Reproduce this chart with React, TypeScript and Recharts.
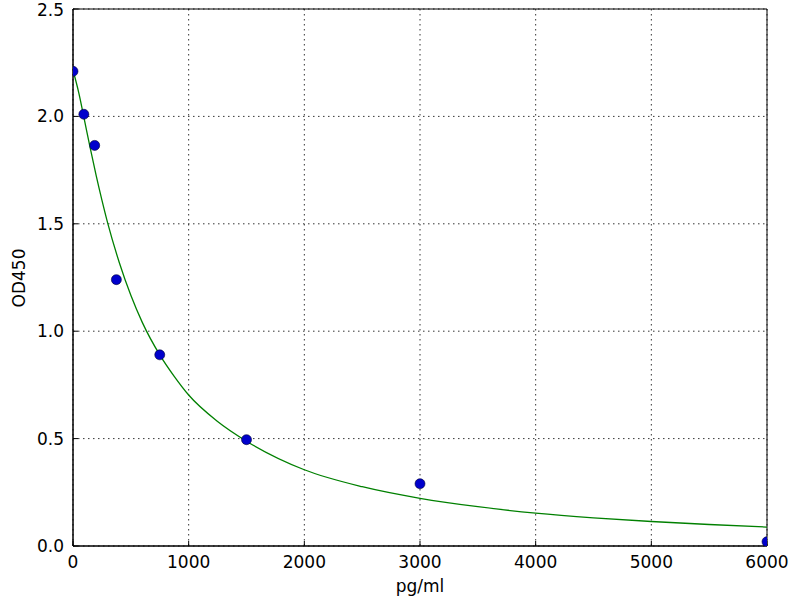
import {
  ComposedChart,
  Line,
  Scatter,
  XAxis,
  YAxis,
  CartesianGrid,
  ReferenceArea,
} from "recharts";

// measured standards
const concentrations = [0, 93.75, 187.5, 375, 750, 1500, 3000, 6000];
const odMeasured = [2.21, 2.01, 1.865, 1.24, 0.89, 0.495, 0.29, 0.02];

// fitted curve
const fitX = [
  0, 50, 100, 150, 200, 250, 300, 400, 500, 600, 750, 875, 1000, 1250, 1500,
  2000, 2500, 3000, 3500, 4000, 4500, 5000, 5500, 6000,
];
const fitY = [
  2.215, 2.11, 1.98, 1.85, 1.725, 1.61, 1.503, 1.32, 1.167, 1.04, 0.89, 0.79,
  0.703, 0.58, 0.488, 0.355, 0.276, 0.222, 0.183, 0.153, 0.131, 0.114, 0.1,
  0.088,
];

const xTicks = [0, 1000, 2000, 3000, 4000, 5000, 6000];
const yTicks = [0, 0.5, 1.0, 1.5, 2.0, 2.5];

const points = concentrations.map((x, i) => ({ x, y: odMeasured[i] }));
const curve = fitX.map((x, i) => ({ x, y: fitY[i] }));

const FONT = "'DejaVu Sans', sans-serif";
const tickStyle = { fill: "#000", fontSize: 17, fontFamily: FONT };

export default function App() {
  return (
    <div
      style={{
        position: "absolute",
        left: 0,
        top: 0,
        width: 800,
        height: 600,
        background: "#fff",
      }}
    >
      <ComposedChart
        width={800}
        height={600}
        margin={{ top: 9, right: 33, bottom: 14, left: 13 }}
      >
        <CartesianGrid
          stroke="#000"
          strokeWidth={0.8}
          strokeDasharray="1.5 3.5"
        />
        <XAxis
          dataKey="x"
          type="number"
          domain={[0, 6000]}
          ticks={xTicks}
          allowDataOverflow
          height={40}
          tick={tickStyle}
          tickSize={-5}
          tickMargin={15}
          axisLine={{ stroke: "#000" }}
          tickLine={{ stroke: "#000" }}
        />
        <XAxis
          xAxisId="top"
          orientation="top"
          dataKey="x"
          type="number"
          domain={[0, 6000]}
          ticks={xTicks}
          height={0}
          tickSize={-5}
          tickFormatter={() => ""}
          axisLine={{ stroke: "#000" }}
          tickLine={{ stroke: "#000" }}
        />
        <YAxis
          dataKey="y"
          type="number"
          domain={[0, 2.5]}
          ticks={yTicks}
          allowDataOverflow
          width={60}
          tick={tickStyle}
          tickSize={-5}
          tickMargin={14}
          tickFormatter={(v: number) => v.toFixed(1)}
          axisLine={{ stroke: "#000" }}
          tickLine={{ stroke: "#000" }}
        />
        <YAxis
          yAxisId="right"
          orientation="right"
          dataKey="y"
          type="number"
          domain={[0, 2.5]}
          ticks={yTicks}
          width={0}
          tickSize={-5}
          tickFormatter={() => ""}
          axisLine={{ stroke: "#000" }}
          tickLine={{ stroke: "#000" }}
        />
        <ReferenceArea
          x1={0}
          x2={6000}
          y1={0}
          y2={2.5}
          fill="none"
          stroke="#000"
          strokeWidth={1}
        />
        <Line
          data={curve}
          dataKey="y"
          type="monotone"
          stroke="#008000"
          strokeWidth={1.3}
          dot={false}
          activeDot={false}
          isAnimationActive={false}
        />
        <Scatter
          data={points}
          dataKey="y"
          isAnimationActive={false}
          shape={(p: any) => (
            <circle
              cx={p.cx}
              cy={p.cy}
              r={5}
              fill="#0000cc"
              stroke="#000033"
              strokeWidth={0.6}
            />
          )}
        />
      </ComposedChart>
      <svg
        width={800}
        height={600}
        style={{ position: "absolute", left: 0, top: 0, pointerEvents: "none" }}
      >
        <text
          x={420}
          y={592}
          textAnchor="middle"
          fontSize={17}
          fontFamily={FONT}
          fill="#000"
        >
          pg/ml
        </text>
        <text
          transform="translate(25,278) rotate(-90)"
          textAnchor="middle"
          fontSize={17}
          fontFamily={FONT}
          fill="#000"
        >
          OD450
        </text>
      </svg>
    </div>
  );
}
